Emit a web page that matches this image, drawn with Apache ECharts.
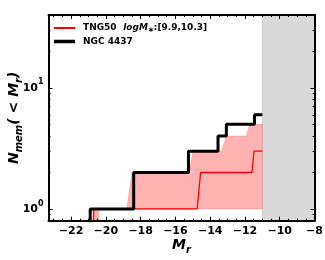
<!DOCTYPE html>
<html><head><meta charset="utf-8">
<script src="https://cdn.jsdelivr.net/npm/echarts@6/dist/echarts.min.js"></script>
<style>html,body{margin:0;padding:0;background:#fff}#c{width:325px;height:260px}</style>
</head><body><div id="c"></div>
<script>
// NGC 4437 cumulative satellite counts (step)
const ngcX = [-20.9, -20.9, -18.4, -15.25, -13.55, -13.07, -11.45, -11.0];
const ngcY = [0, 1, 2, 3, 4, 5, 6, 6];
// TNG50 median
const medX = [-20.75, -20.7, -14.75, -14.55, -11.6, -11.48, -11.0];
const medY = [0, 1, 1, 2, 2, 3, 3];
// TNG50 band upper / lower
const upX = [-20.8, -20.75, -18.8, -18.5, -15.2, -15.0, -13.35, -13.07, -11.92, -11.73, -11.0];
const upY = [0, 1, 1, 2, 2, 3, 3, 4, 4, 5, 5];
const loX = [-20.8, -20.45, -20.4, -11.0];
const loY = [0, 0, 1, 1];
// completeness limit (shaded)
const cutX = [-11, -8];
// ticks
const xTicks = [-22, -20, -18, -16, -14, -12, -10, -8];
const xMinor = [];
for (let v = -23; v <= -8; v += 0.5) xMinor.push(v);
const yTicks = [1, 10];
const yMinor = [0.9, 2, 3, 4, 5, 6, 7, 8, 9, 20, 30, 40];

const X_MIN = -23.3, X_MAX = -8, Y_MIN = 0.8, Y_MAX = 40;
const FLOOR = 0.3; // zero counts drawn below the axis (clipped)
const f = v => (v > 0 ? v : FLOOR);
const pts = (xs, ys) => xs.map((x, i) => [x, f(ys[i])]);

const chart = echarts.init(document.getElementById('c'), null, {renderer: 'canvas'});
const FONT = 'DejaVu Sans';
const lineBlack = {show: true, lineStyle: {color: '#000', width: 2}};

function xAx(pos, major, showLine, extra) {
  return Object.assign({
    type: 'value', position: pos, min: X_MIN, max: X_MAX, z: 10,
    axisLine: showLine ? lineBlack : {show: false},
    axisTick: {show: true, inside: true, length: major ? 4 : 2,
      customValues: major ? xTicks : xMinor, lineStyle: {color: '#000', width: 1}},
    axisLabel: {show: false},
    splitLine: {show: false}
  }, extra || {});
}
function yAx(pos, major, showLine, extra) {
  return Object.assign({
    type: 'log', logBase: 10, position: pos, min: Y_MIN, max: Y_MAX, z: 10,
    axisLine: showLine ? lineBlack : {show: false},
    axisTick: {show: true, inside: true, length: major ? 4 : 2,
      customValues: major ? yTicks : yMinor, lineStyle: {color: '#000', width: 1}},
    axisLabel: {show: false},
    splitLine: {show: false}, minorTick: {show: false}
  }, extra || {});
}

const option = {
  animation: false,
  backgroundColor: '#fff',
  grid: {left: 48.5, top: 15, right: 10.5, bottom: 39.3, containLabel: false, outerBoundsMode: 'none'},
  xAxis: [
    xAx('bottom', true, true, {
      axisLabel: {show: true, customValues: xTicks, margin: 5,
        formatter: v => (v < 0 ? '\u2212' + Math.abs(v) : String(v)),
        color: '#000', fontFamily: FONT, fontWeight: 'bold', fontSize: 11},
      name: '{b|M}{s|r}', nameLocation: 'middle', nameGap: 18, nameMoveOverlap: false,
      nameTextStyle: {rich: {
        b: {fontFamily: FONT, fontWeight: 'bold', fontStyle: 'italic', fontSize: 14, color: '#000', verticalAlign: 'bottom'},
        s: {fontFamily: FONT, fontWeight: 'bold', fontStyle: 'italic', fontSize: 10, color: '#000', verticalAlign: 'bottom', padding: [0, 0, -3, 0]}
      }}
    }),
    xAx('bottom', false, false),
    xAx('top', true, true),
    xAx('top', false, false)
  ],
  yAxis: [
    yAx('left', true, true, {
      axisLabel: {show: true, customValues: yTicks, margin: 5,
        formatter: v => (v === 1 ? '{b|10}{p|0}' : '{b|10}{p|1}'),
        rich: {
          b: {fontFamily: FONT, fontWeight: 'bold', fontSize: 11, color: '#000', verticalAlign: 'bottom'},
          p: {fontFamily: FONT, fontWeight: 'bold', fontSize: 8, color: '#000', verticalAlign: 'top', padding: [-4, 0, 0, 0]}
        }},
      name: '{b|N}{s|mem}{b|( < M}{s|r}{b|)}', nameLocation: 'middle', nameGap: 27, nameRotate: 90,
      nameMoveOverlap: false,
      nameTextStyle: {rich: {
        b: {fontFamily: FONT, fontWeight: 'bold', fontStyle: 'italic', fontSize: 14, color: '#000', verticalAlign: 'bottom'},
        s: {fontFamily: FONT, fontWeight: 'bold', fontStyle: 'italic', fontSize: 10, color: '#000', verticalAlign: 'bottom', padding: [0, 0, -3, 0]}
      }}
    }),
    yAx('left', false, false),
    yAx('right', true, true),
    yAx('right', false, false)
  ],
  legend: [
    {data: ['TNG50'], left: 54, top: 22, itemWidth: 21, itemHeight: 2, itemGap: 0,
      icon: 'rect', padding: 0,
      formatter: () => '{t|TNG50}  {i|logM}{a|\u2217}{t|:[9.9,10.3]}',
      textStyle: {padding: [0, 0, 0, 3], rich: {
        t: {fontFamily: FONT, fontWeight: 'bold', fontSize: 9, color: '#000'},
        i: {fontFamily: FONT, fontWeight: 'bold', fontStyle: 'italic', fontSize: 9, color: '#000'},
        a: {fontFamily: FONT, fontWeight: 'bold', fontSize: 7, color: '#000', verticalAlign: 'bottom'}
      }}},
    {data: ['NGC 4437'], left: 54, top: 37, itemWidth: 21, itemHeight: 3.5, itemGap: 0,
      icon: 'rect', padding: 0,
      textStyle: {fontFamily: FONT, fontWeight: 'bold', fontSize: 9, color: '#000', padding: [0, 0, 0, 3]}}
  ],
  series: [
    {
      type: 'line', name: 'cut', data: [], z: 1, silent: true,
      markArea: {silent: true, itemStyle: {color: '#d9d9d9', borderColor: '#c8c8c8', borderWidth: 0.8},
        data: [[{xAxis: cutX[0], yAxis: Y_MIN}, {xAxis: cutX[1], yAxis: Y_MAX}]]}
    },
    {
      type: 'custom', name: 'band', clip: true, z: 2, silent: true,
      data: [[upX[0], 1]],
      renderItem: function (params, api) {
        if (params.dataIndex !== 0) return;
        const points = [];
        upX.forEach((x, i) => points.push(api.coord([x, f(upY[i])])));
        for (let i = loX.length - 1; i >= 0; i--) points.push(api.coord([loX[i], f(loY[i])]));
        return {type: 'polygon', shape: {points: points},
          style: {fill: 'rgba(255,0,0,0.3)', stroke: 'rgba(255,0,0,0.25)', lineWidth: 0.6}};
      }
    },
    {
      type: 'line', name: 'TNG50', data: pts(medX, medY), showSymbol: false, clip: true, z: 3,
      lineStyle: {color: '#ff0000', width: 1.3}, itemStyle: {color: '#ff0000'}
    },
    {
      type: 'line', name: 'NGC 4437', data: pts(ngcX, ngcY), step: 'end', showSymbol: false, clip: true, z: 4,
      lineStyle: {color: '#000', width: 3}, itemStyle: {color: '#000'}
    }
  ]
};
chart.setOption(option);
</script></body></html>
